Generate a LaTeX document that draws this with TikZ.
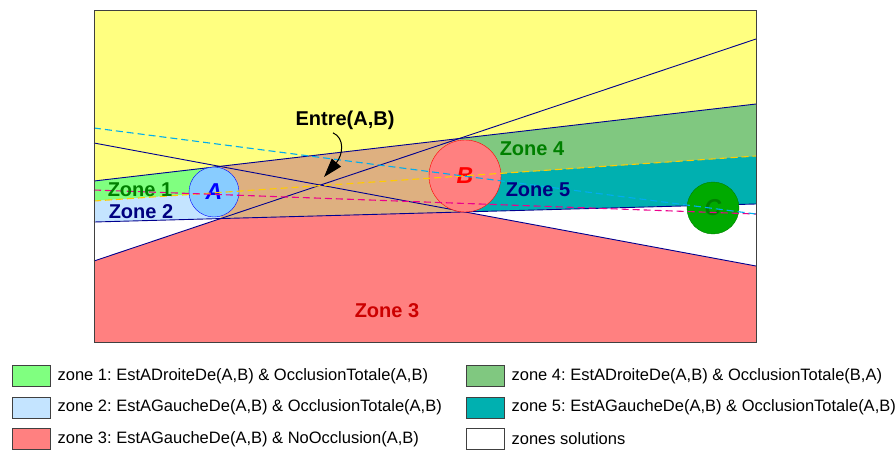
\documentclass[tikz,border=0pt]{standalone}
\usepackage{fontspec}
\setmainfont{Liberation Sans}
\usepackage{tikz}
\usetikzlibrary{arrows.meta, positioning, calc}
\definecolor{ZoneYellow}{HTML}{FFFF80}
\definecolor{ZoneOne}{HTML}{80FF80}
\definecolor{ZoneTwo}{HTML}{C4E4FF}
\definecolor{ZoneThree}{HTML}{FF8080}
\definecolor{ZoneFour}{HTML}{80C880}
\definecolor{ZoneFive}{HTML}{00B0B0}
\definecolor{ZoneTan}{HTML}{DEB080}
\definecolor{LineBlue}{HTML}{000090}
\definecolor{DarkGreen}{HTML}{008000}
\definecolor{Navy}{HTML}{000080}
\definecolor{SkyA}{HTML}{88CCFF}
\definecolor{GreenC}{HTML}{00AA00}
\definecolor{DashGold}{HTML}{FFCC00}
\frenchspacing

\begin{document}
\begin{tikzpicture}[x=1pt, y=-1pt, >=Stealth,
  tangent/.style={LineBlue, line width=0.9pt},
  centre/.style={dash pattern=on 7pt off 4pt, line width=1.1pt},
  zlabel/.style={font=\fontsize{20}{22}\selectfont\bfseries},
  obj/.style={circle, inner sep=0pt, font=\fontsize{23}{25}\selectfont\bfseries\itshape},
  key/.style={draw=black!75, minimum width=38pt, minimum height=21pt, inner sep=0pt, anchor=west},
  keytext/.style={right=7pt of #1, font=\fontsize{16.5}{18}\selectfont, inner sep=0pt}]
  \useasboundingbox (0,0) rectangle (895,451);
  % Tangent points
  \coordinate (aT) at (220,166);
  \coordinate (aB) at (220.6,218.6);
  \coordinate (bT) at (459.3,138.5);
  \coordinate (bB) at (464.9,211.9);
  % Zones
  \fill[ZoneYellow] (94,10) rectangle (756,342);
  \fill[ZoneOne] (94,181) -- (aT) -- (214,193) -- (94,201) -- cycle;
  \fill[ZoneTwo] (94,201) -- (214,193) -- (aB) -- (94,222) -- cycle;
  \fill[white] (94,222) -- (aB) -- (94,261) -- cycle;
  \fill[ZoneTan] (aT) -- (bT) -- (bB) -- (aB) -- cycle;
  \fill[ZoneFour] (bT) -- (756,104) -- (756,156) -- (465,176) -- cycle;
  \fill[ZoneFive] (465,176) -- (756,156) -- (756,204) -- (bB) -- cycle;
  \fill[white] (bB) -- (756,204) -- (756,266) -- cycle;
  \fill[ZoneThree] (94,261) -- (aB) -- (bB) -- (756,266) -- (756,342) -- (94,342) -- cycle;
  % Tangent lines
  \draw[tangent] (94,181) -- (756,104);
  \draw[tangent] (94,222) -- (756,204);
  \draw[tangent] (94,143) -- (756,266);
  \draw[tangent] (94,261) -- (756,39);
  % Objects
  \node[obj, minimum size=50pt, draw=blue, fill=SkyA, text=blue] (A) at (214,192) {A};
  \node[obj, minimum size=72pt, draw=red, fill=ZoneThree, text=red] (B) at (465,176) {B};
  \node[obj, minimum size=52pt, draw=DarkGreen, fill=GreenC, text=DarkGreen] (C) at (713,208) {C};
  % Centre lines
  \draw[centre, DashGold] (94,201) -- (756,156);
  \draw[centre, magenta] (94,190) -- (756,214);
  \draw[centre, cyan] (94,128) -- (756,214);
  % Labels
  \node[zlabel, DarkGreen] (z1) at (140,190) {Zone 1};
  \node[zlabel, Navy] (z2) at (141,212) {Zone 2};
  \node[zlabel, red!80!black] (z3) at (387,311) {Zone 3};
  \node[zlabel, DarkGreen] (z4) at (532,149) {Zone 4};
  \node[zlabel, Navy] (z5) at (538,190) {Zone 5};
  \node[zlabel] (entre) at (345,120) {Entre(A,B)};
  \coordinate (cross) at (324,177);
  \draw[line width=1pt, -{Triangle[length=19pt, width=12pt]}]
    ([xshift=-12pt]entre.south) .. controls (345,138) and (343,155) .. (cross);
  % Frame
  \draw[black!75, line width=1pt] (94,10) rectangle (756,342);
  % Legend
  \node[key, fill=ZoneOne] (k1) at (12,376) {};
  \node[keytext=k1] (t1) {zone 1: EstADroiteDe(A,B) \& OcclusionTotale(A,B)};
  \node[key, fill=ZoneTwo] (k2) at (12,407.5) {};
  \node[keytext=k2] (t2) {zone 2: EstAGaucheDe(A,B) \& OcclusionTotale(A,B)};
  \node[key, fill=ZoneThree] (k3) at (12,439) {};
  \node[keytext=k3] (t3) {zone 3: EstAGaucheDe(A,B) \& NoOcclusion(A,B)};
  \node[key, fill=ZoneFour] (k4) at (466,376) {};
  \node[keytext=k4] (t4) {zone 4: EstADroiteDe(A,B) \& OcclusionTotale(B,A)};
  \node[key, fill=ZoneFive] (k5) at (466,407.5) {};
  \node[keytext=k5] (t5) {zone 5: EstAGaucheDe(A,B) \& OcclusionTotale(A,B)};
  \node[key, fill=white] (k6) at (466,439) {};
  \node[keytext=k6] (t6) {zones solutions};
\end{tikzpicture}
\end{document}
